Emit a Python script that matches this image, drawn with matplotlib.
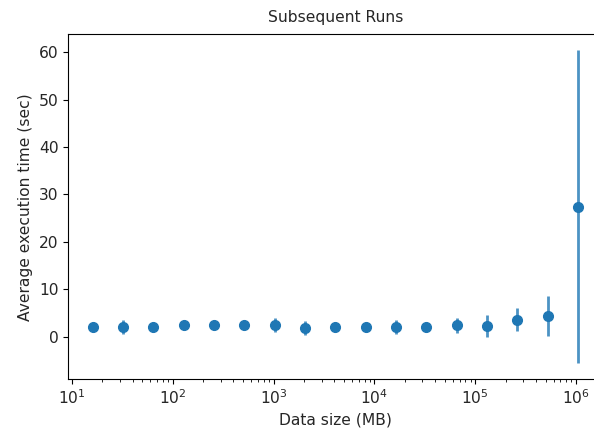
import matplotlib
matplotlib.use("Agg")
import matplotlib.pyplot as plt

data_size_mb = [16, 32, 64, 128, 256, 512, 1024, 2048, 4096, 8192, 16384,
                32768, 65536, 131072, 262144, 524288, 1048576]
mean_time = [2.1, 2.1, 2.1, 2.4, 2.4, 2.4, 2.4, 1.9, 2.0, 2.0, 2.1, 2.0,
             2.4, 2.3, 3.6, 4.4, 27.4]
std_time = [0.7, 1.5, 0.8, 0.9, 0.8, 0.8, 1.5, 1.5, 0.8, 0.8, 1.5, 0.8,
            1.6, 2.3, 2.4, 4.2, 33.0]

fs = 11.2
fig = plt.figure(figsize=(5.94, 4.40), dpi=100)
ax = fig.add_axes([68.3 / 594, 61 / 440, 534 / 594, 344.5 / 440])
ax.errorbar(data_size_mb, mean_time, yerr=std_time, fmt='o', color='#1f77b4',
            markersize=7, elinewidth=2, ecolor=(0.12, 0.47, 0.71, 0.8))
ax.set_xscale('log')
ax.set_title('Subsequent Runs', fontsize=fs, pad=9, color='#262626')
ax.set_xlabel('Data size (MB)', fontsize=fs, color='#262626')
ax.set_ylabel('Average execution time (sec)', fontsize=fs, color='#262626')
ax.tick_params(labelsize=fs, labelcolor='#262626')
ax.set_yticks([0, 10, 20, 30, 40, 50, 60])
fig.savefig('out.png', dpi=100)
